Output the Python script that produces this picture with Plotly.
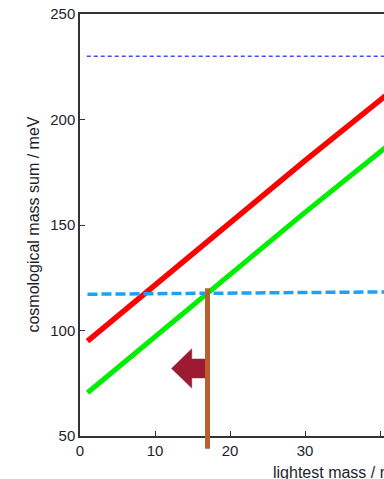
import plotly.graph_objects as go

# Lightest neutrino mass (meV) and the two cosmological mass-sum curves (meV)
lightest_mass = [1, 10, 20, 30, 41]
sum_upper = [95, 121.5, 151, 180.5, 212]
sum_lower = [70.5, 97, 126.5, 156, 187.5]

# Horizontal bounds on the mass sum (meV)
bound_dashed_x = [1, 41]
bound_dashed_y = [117.2, 118.3]
bound_dotted_x = [0.9, 41]
bound_dotted_y = [230, 230]

# Vertical cut on the lightest mass and the arrow pointing to the allowed side
cut_mass = 17
cut_top = 120
cut_bottom = 44
arrow_y = 82
arrow_tip = 12.2
arrow_head_base = 14.9
arrow_head_half = 9.3
arrow_shaft_half = 4.5

x_range = [0, 40.53]
y_range = [50, 250]
x_ticks = [0, 10, 20, 30, 40]
y_ticks = [50, 100, 150, 200, 250]

FONT = "Liberation Sans, Arial, sans-serif"
TEXT = "#1e1e2e"

fig = go.Figure()

fig.add_trace(go.Scatter(x=bound_dotted_x, y=bound_dotted_y, mode="lines",
                         line=dict(color="#4a4af5", width=1.6, dash="4px,3px"),
                         hoverinfo="skip"))
fig.add_trace(go.Scatter(x=lightest_mass, y=sum_upper, mode="lines",
                         line=dict(color="#ff0000", width=5.5), hoverinfo="skip"))
fig.add_trace(go.Scatter(x=lightest_mass, y=sum_lower, mode="lines",
                         line=dict(color="#00ee00", width=5), hoverinfo="skip"))
fig.add_trace(go.Scatter(x=bound_dashed_x, y=bound_dashed_y, mode="lines",
                         line=dict(color="#1fa0f5", width=3.5, dash="10px,4px"),
                         hoverinfo="skip"))

# Arrow outline built from its parameters
arrow_shaft_end = cut_mass
ax = [arrow_tip, arrow_head_base, arrow_head_base, arrow_shaft_end,
      arrow_shaft_end, arrow_head_base, arrow_head_base, arrow_tip]
ay = [arrow_y, arrow_y + arrow_head_half, arrow_y + arrow_shaft_half,
      arrow_y + arrow_shaft_half, arrow_y - arrow_shaft_half,
      arrow_y - arrow_shaft_half, arrow_y - arrow_head_half, arrow_y]
fig.add_trace(go.Scatter(x=ax, y=ay, mode="lines", fill="toself",
                         fillcolor="#9c1b33", line=dict(color="#9c1b33", width=0.5),
                         hoverinfo="skip"))

# Vertical cut drawn as a shape so it can run below the x axis
def to_paper(v):
    return (v - y_range[0]) / (y_range[1] - y_range[0])

fig.add_shape(type="line", xref="x", yref="paper",
              x0=cut_mass, x1=cut_mass, y0=to_paper(cut_bottom), y1=to_paper(cut_top),
              line=dict(color="#b8612e", width=5), layer="above")

axis_common = dict(showline=True, linecolor="#333333", linewidth=1.5,
                   ticks="inside", ticklen=5, tickwidth=1.3, tickcolor="#333333",
                   showgrid=False, zeroline=False,
                   tickfont=dict(family=FONT, size=15, color=TEXT))

fig.update_xaxes(range=x_range, tickvals=x_ticks, mirror=True, **axis_common)
fig.update_yaxes(range=y_range, tickvals=y_ticks, mirror=False, **axis_common)

fig.add_annotation(text="cosmological mass sum / meV", xref="paper", yref="paper",
                   x=-0.156, y=0.5, textangle=-90, showarrow=False,
                   xanchor="center", yanchor="middle",
                   font=dict(family=FONT, size=16, color=TEXT))
fig.add_annotation(text="lightest mass / meV", xref="paper", yref="paper",
                   x=0.628, y=-0.0616, showarrow=False, xanchor="left", yanchor="top",
                   font=dict(family=FONT, size=16, color=TEXT))

fig.update_layout(width=384, height=479, showlegend=False,
                  margin=dict(l=80, r=0, t=14, b=43),
                  plot_bgcolor="white", paper_bgcolor="white")

fig.write_html("out.html")
